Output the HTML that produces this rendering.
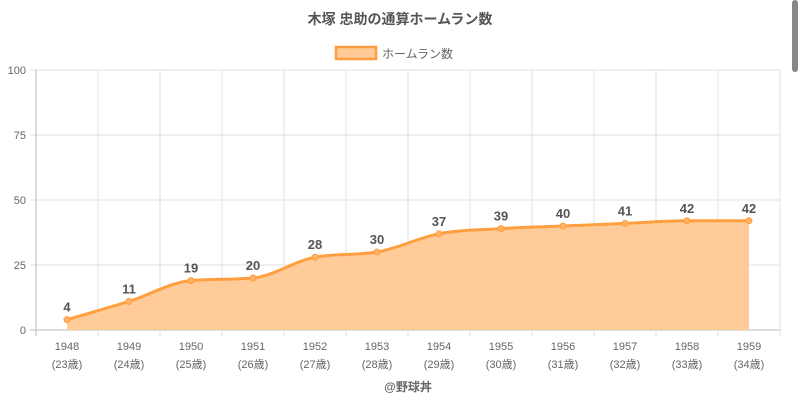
<!DOCTYPE html>
<html><head><meta charset="utf-8"><style>
body{margin:0;background:#fff;width:800px;height:400px;overflow:hidden;font-family:"Liberation Sans","Noto Sans CJK JP",sans-serif}
</style></head><body>
<svg id="s" width="800" height="400" xmlns="http://www.w3.org/2000/svg" font-family="Liberation Sans, Noto Sans CJK JP, sans-serif">
<rect x="792" y="0" width="6" height="72" rx="3" fill="#888"/>
<text x="400" y="24" text-anchor="middle" font-size="14" font-weight="bold" fill="#555">木塚 忠助の通算ホームラン数</text>
<rect x="336" y="47" width="40" height="12" fill="#ffcc99" stroke="#ff9f40" stroke-width="2.5"/>
<text x="382" y="58" font-size="12" fill="#666">ホームラン数</text>
<g id="grid" stroke="#e0e0e0" stroke-width="1"></g>
<g id="lab" font-size="11" fill="#666"></g>
<path id="area" fill="#ffcc99" stroke="none"/>
<path id="line" fill="none" stroke="#ff9f40" stroke-width="3"/>
<g id="pts"></g>
<text x="408" y="391" text-anchor="middle" font-size="12" font-weight="bold" fill="#666">@野球丼</text>
</svg>
<script>
const ns="http://www.w3.org/2000/svg";
function el(p,t,a,txt){const e=document.createElementNS(ns,t);for(const k in a)e.setAttribute(k,a[k]);if(txt!==undefined)e.textContent=txt;document.getElementById(p).appendChild(e);return e;}
const L=36,R=780,T=70,B=330,W=62;
for(let i=0;i<=4;i++){const y=B-i*65;el('grid','line',{x1:L-6,x2:R,y1:y,y2:y,stroke:i==0?'#bbb':'#e0e0e0'});el('lab','text',{x:26,y:y+4,'text-anchor':'end'},String(i*25));}
for(let i=0;i<=12;i++){const x=L+i*W;el('grid','line',{x1:x,x2:x,y1:T,y2:B+6,stroke:i==0?'#bbb':'#e0e0e0'});}
const v=[4,11,19,20,28,30,37,39,40,41,42,42];
const P=v.map((d,i)=>[L+W/2+i*W,B-d*2.6]);
for(let i=0;i<12;i++){el('lab','text',{x:P[i][0],y:350,'text-anchor':'middle'},String(1948+i));el('lab','text',{x:P[i][0],y:368,'text-anchor':'middle'},'('+(23+i)+'歳)');}
// monotone cubic
const n=P.length,m=[],dlt=[];
for(let i=0;i<n-1;i++)dlt.push((P[i+1][1]-P[i][1])/W);
for(let i=0;i<n;i++){if(i==0)m.push(dlt[0]);else if(i==n-1)m.push(dlt[n-2]);else m.push(dlt[i-1]*dlt[i]<=0?0:(dlt[i-1]+dlt[i])/2);}
for(let i=0;i<n-1;i++){if(dlt[i]==0){m[i]=0;m[i+1]=0;continue;}const a=m[i]/dlt[i],b=m[i+1]/dlt[i],s=a*a+b*b;if(s>9){const t=3/Math.sqrt(s);m[i]=t*a*dlt[i];m[i+1]=t*b*dlt[i];}}
let d='M'+P[0][0]+','+P[0][1];
for(let i=0;i<n-1;i++){const h=W/3;d+=' C'+(P[i][0]+h)+','+(P[i][1]+m[i]*h)+' '+(P[i+1][0]-h)+','+(P[i+1][1]-m[i+1]*h)+' '+P[i+1][0]+','+P[i+1][1];}
document.getElementById('line').setAttribute('d',d);
document.getElementById('area').setAttribute('d',d+' L'+P[n-1][0]+','+B+' L'+P[0][0]+','+B+' Z');
for(let i=0;i<n;i++){el('pts','circle',{cx:P[i][0],cy:P[i][1],r:3,fill:'#ffb366',stroke:'#ff9f40','stroke-width':1});
el('pts','text',{x:P[i][0],y:P[i][1]-8,'text-anchor':'middle','font-size':13,'font-weight':'bold',fill:'#555'},String(v[i]));}
</script>
</body></html>
